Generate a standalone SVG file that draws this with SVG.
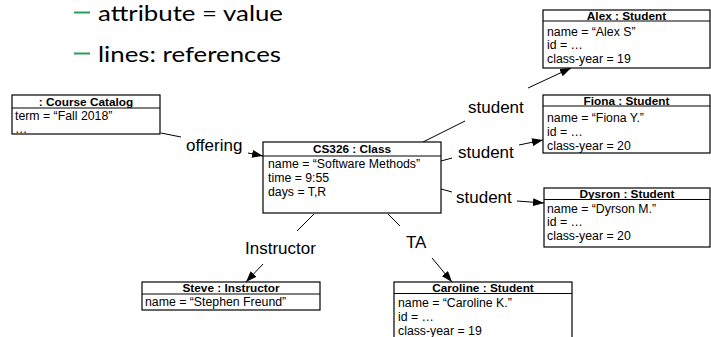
<svg xmlns="http://www.w3.org/2000/svg" width="711" height="337" viewBox="0 0 711 337">
<style>
.box{fill:#fff;stroke:#000;stroke-width:1.2}
.sep{stroke:#000;stroke-width:1.2}
.hd{font-family:"Liberation Sans",Arial,sans-serif;font-weight:bold;font-size:11.8px;text-anchor:middle;fill:#000}
.at{font-family:"Liberation Sans",Arial,sans-serif;font-size:12.3px;fill:#000}
.lbl{font-family:"Liberation Sans",Arial,sans-serif;font-size:17px;fill:#000}
.big{font-family:Lato,"Open Sans",sans-serif;font-size:21px;fill:#000}
.dash{stroke:#2a9a5a;stroke-width:2}
.cn{stroke:#000;stroke-width:1;fill:none}
</style>
<defs>
<marker id="ah" markerUnits="userSpaceOnUse" markerWidth="11" markerHeight="8" refX="11" refY="4" orient="auto">
<path d="M0,0 L11,4 L0,8 z" fill="#000"/>
</marker>
</defs>
<g id="bullets">
<line class="dash" x1="74" y1="12.5" x2="90" y2="12.5"/>
<text class="big" x="98" y="21" textLength="185" lengthAdjust="spacingAndGlyphs">attribute = value</text>
<line class="dash" x1="74" y1="53.5" x2="90" y2="53.5"/>
<text class="big" x="98" y="62" textLength="183" lengthAdjust="spacingAndGlyphs">lines: references</text>
</g>
<g id="connectors">
<line class="cn" x1="161" y1="133" x2="181" y2="137"/>
<line class="cn" x1="248" y1="153" x2="263" y2="156" marker-end="url(#ah)"/>
<line class="cn" x1="423" y1="142" x2="465" y2="121"/>
<line class="cn" x1="528" y1="88" x2="571" y2="68" marker-end="url(#ah)"/>
<line class="cn" x1="441" y1="161" x2="452" y2="158"/>
<line class="cn" x1="519" y1="145" x2="543" y2="140" marker-end="url(#ah)"/>
<line class="cn" x1="441" y1="189" x2="452" y2="192"/>
<line class="cn" x1="517" y1="201" x2="544" y2="203" marker-end="url(#ah)"/>
<line class="cn" x1="314" y1="214" x2="297" y2="231"/>
<line class="cn" x1="263" y1="264" x2="246" y2="282" marker-end="url(#ah)"/>
<line class="cn" x1="388" y1="214" x2="400" y2="226"/>
<line class="cn" x1="432" y1="258" x2="452" y2="282" marker-end="url(#ah)"/>
<text class="lbl" x="186" y="151">offering</text>
<text class="lbl" x="468" y="113">student</text>
<text class="lbl" x="458" y="158">student</text>
<text class="lbl" x="456" y="202.5">student</text>
<text class="lbl" x="245" y="254">Instructor</text>
<text class="lbl" x="406" y="248">TA</text>
</g>
<g id="catalog">
<rect class="box" x="12" y="95" width="148" height="39"/>
<line class="sep" x1="12" y1="108" x2="160" y2="108"/>
<text class="hd" x="86" y="105.5">: Course Catalog</text>
<text class="at" x="15" y="120">term = “Fall 2018”</text>
<text class="at" x="15" y="132.5">…</text>
</g>
<g id="cs326">
<rect class="box" x="263" y="142" width="178" height="71"/>
<line class="sep" x1="263" y1="156" x2="441" y2="156"/>
<text class="hd" x="352" y="152.5">CS326 : Class</text>
<text class="at" x="268" y="168">name = “Software Methods”</text>
<text class="at" x="268" y="182">time = 9:55</text>
<text class="at" x="268" y="196">days = T,R</text>
</g>
<g id="alex">
<rect class="box" x="543" y="10" width="167" height="58"/>
<line class="sep" x1="543" y1="21" x2="710" y2="21"/>
<text class="hd" x="626.5" y="19.5">Alex : Student</text>
<text class="at" x="547" y="35.5">name = “Alex S”</text>
<text class="at" x="547" y="49">id = …</text>
<text class="at" x="547" y="63">class-year = 19</text>
</g>
<g id="fiona">
<rect class="box" x="543" y="95" width="167" height="58"/>
<line class="sep" x1="543" y1="106" x2="710" y2="106"/>
<text class="hd" x="626.5" y="104.5">Fiona : Student</text>
<text class="at" x="547" y="121.5">name = “Fiona Y.”</text>
<text class="at" x="547" y="135.5">id = …</text>
<text class="at" x="547" y="149.5">class-year = 20</text>
</g>
<g id="dysron">
<rect class="box" x="544" y="188" width="166" height="59"/>
<line class="sep" x1="544" y1="199.5" x2="710" y2="199.5"/>
<text class="hd" x="627" y="197.5">Dysron : Student</text>
<text class="at" x="547" y="212.5">name = “Dyrson M.”</text>
<text class="at" x="547" y="226">id = …</text>
<text class="at" x="547" y="240">class-year = 20</text>
</g>
<g id="steve">
<rect class="box" x="142" y="282" width="178" height="28"/>
<line class="sep" x1="142" y1="294" x2="320" y2="294"/>
<text class="hd" x="231" y="292">Steve : Instructor</text>
<text class="at" x="145" y="306">name = “Stephen Freund”</text>
</g>
<g id="caroline">
<rect class="box" x="394" y="282" width="178" height="62"/>
<line class="sep" x1="394" y1="293.5" x2="572" y2="293.5"/>
<text class="hd" x="483" y="291.5">Caroline : Student</text>
<text class="at" x="398" y="307">name = “Caroline K.”</text>
<text class="at" x="398" y="321">id = …</text>
<text class="at" x="398" y="335">class-year = 19</text>
</g>
</svg>
